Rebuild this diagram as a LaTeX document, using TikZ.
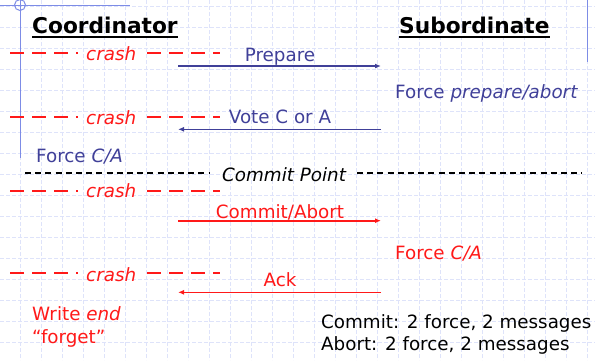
\documentclass[tikz,border=0pt]{standalone}
\usepackage{fontspec}
\setmainfont{DejaVu Sans}
\usetikzlibrary{arrows.meta,calc}
\definecolor{slideblue}{RGB}{64,64,153}
\definecolor{slidered}{RGB}{255,25,25}
\definecolor{gridcol}{RGB}{222,227,250}
\definecolor{decoblue}{RGB}{125,140,230}
\begin{document}
\begin{tikzpicture}[x=1pt,y=-1pt,
  txt/.style={inner sep=0pt,anchor=base west,font=\fontsize{18.3}{22}\selectfont},
  lbl/.style={inner sep=0pt,anchor=base,font=\fontsize{18.3}{22}\selectfont},
  ttl/.style={inner sep=0pt,anchor=base west,font=\fontsize{21.7}{26}\selectfont\bfseries},
  crashtxt/.style={txt,text=slidered,font=\fontsize{18.3}{22}\selectfont\itshape},
  gridline/.style={gridcol,line width=0.8pt,dash pattern=on 4pt off 2pt},
  deco/.style={decoblue,line width=1pt},
  crashline/.style={slidered,line width=1.8pt,dash pattern=on 14pt off 8pt},
  cpline/.style={black,line width=1.8pt,dash pattern=on 6pt off 4.2pt},
  bluearrow/.style={slideblue,line width=1.6pt,-{Latex[length=6pt,width=5pt]}},
  redarrow/.style={slidered,line width=1.6pt,-{Latex[length=6pt,width=5pt]}},
  uline/.style={black,line width=2pt}
]
\useasboundingbox (0,0) rectangle (595,360);
\fill[white] (0,0) rectangle (595,360);
% background grid
\foreach \i in {0,...,27} \draw[gridline] (20+21*\i,0) -- (20+21*\i,360);
\foreach \j in {0,...,17} \draw[gridline] (0,6+21*\j) -- (595,6+21*\j);
% slide decoration
\draw[deco] (0,5) -- (130,5);
\draw[deco] (20,0) -- (20,158);
\draw[deco] (20,5) circle[radius=5.5];
\draw[deco] (587,0) -- (587,62);

% titles
\node[ttl] (coord) at (32,33.3) {Coordinator};
\node[ttl] (sub) at (399,33.3) {Subordinate};
\draw[uline] ($(coord.base west)+(0,3.4)$) -- ($(coord.base east)+(0,3.4)$);
\draw[uline] ($(sub.base west)+(0,3.4)$) -- ($(sub.base east)+(0,3.4)$);

% crash rows
\foreach \n/\dy/\by in {1/52.7/60.5, 2/116.7/124, 3/190.8/197.5, 4/273.3/281.5}{
  \node[crashtxt] (cr\n) at (86,\by) {crash};
  \draw[crashline] (10,\dy) -- (78,\dy);
  \draw[crashline] (147,\dy) -- (220,\dy);
}

% prepare
\coordinate (p1) at (178,66);
\coordinate (p2) at (381,66);
\draw[bluearrow] (p1) -- (p2);
\node[lbl,text=slideblue] (prep) at (280,61) {Prepare};
\node[txt,text=slideblue] (fpa) at (395,98.3) {Force \textit{prepare/abort}};

% vote
\coordinate (v1) at (381,129.3);
\coordinate (v2) at (178,129.3);
\draw[bluearrow] (v1) -- (v2);
\node[lbl,text=slideblue] (vote) at (280,123.3) {Vote C or A};
\node[txt,text=slideblue] (fca1) at (36,162.7) {Force \textit{C/A}};

% commit point
\node[txt,font=\fontsize{18.3}{22}\selectfont\itshape] (cp) at (222,181.5) {Commit Point};
\draw[cpline] (25,173.3) -- (210,173.3);
\draw[cpline] (357,173.3) -- (582,173.3);

% commit/abort
\coordinate (c1) at (178,220.7);
\coordinate (c2) at (381,220.7);
\draw[redarrow] (c1) -- (c2);
\node[lbl,text=slidered] (ca) at (280,218.5) {Commit/Abort};
\node[txt,text=slidered] (fca2) at (395,259) {Force \textit{C/A}};

% ack
\coordinate (a1) at (381,292.3);
\coordinate (a2) at (178,292.3);
\draw[redarrow] (a1) -- (a2);
\node[lbl,text=slidered] (ack) at (280,286.7) {Ack};
\node[txt,text=slidered] (we) at (32,320.7) {Write \textit{end}};
\node[txt,text=slidered] (fg) at (32,343) {“forget”};

% summary
\node[txt] (sum1) at (321,328.3) {Commit: 2 force, 2 messages};
\node[txt] (sum2) at (321,350) {Abort: 2 force, 2 messages};
\end{tikzpicture}
\end{document}
